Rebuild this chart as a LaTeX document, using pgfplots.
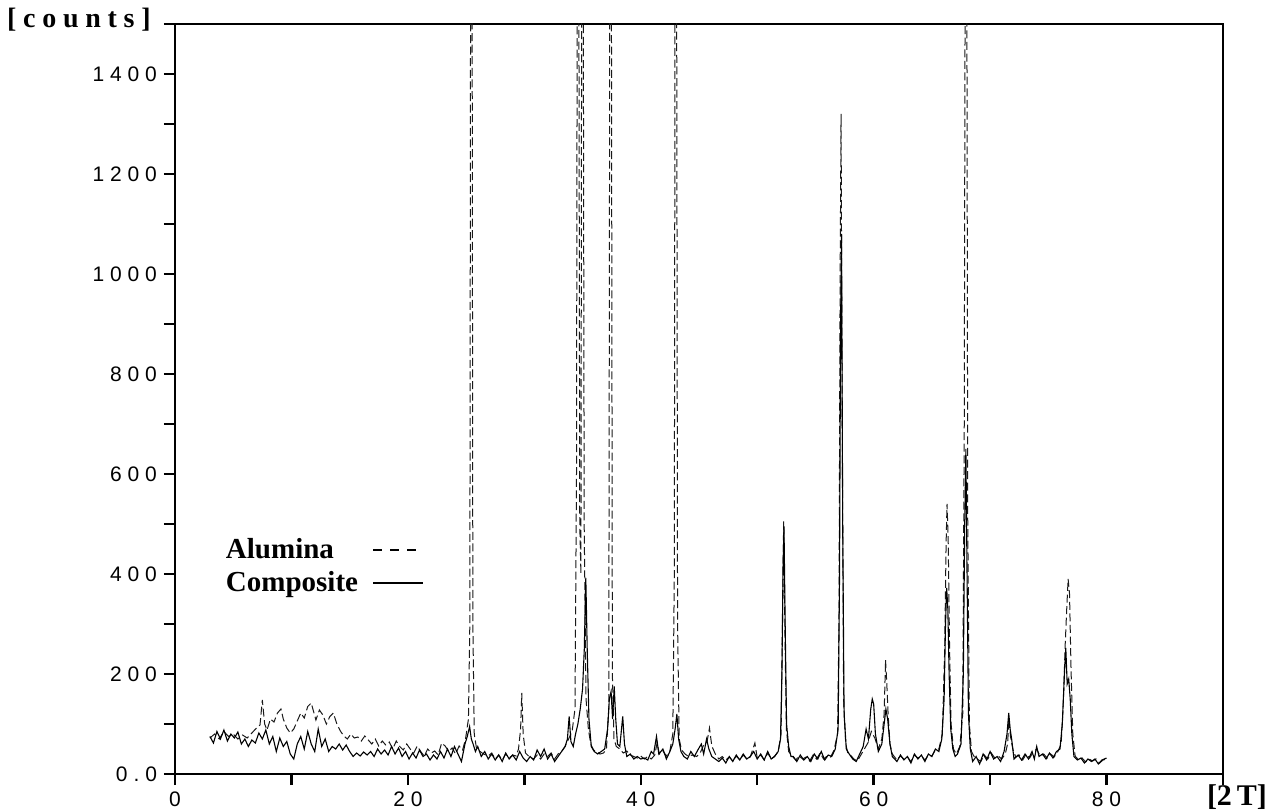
\documentclass[border=0pt]{standalone}
\usepackage{fontspec}
\usepackage{pgfplots}
\pgfplotsset{compat=1.18}
\setmainfont{Liberation Serif}
\newfontfamily\tickfont[LetterSpace=28]{Liberation Sans}
\newfontfamily\labfont[LetterSpace=24]{Liberation Serif}

\pgfplotstableread{
x y
3.0 72
3.4 80
3.8 70
4.2 85
4.6 75
5.0 80
5.4 70
5.8 78
6.2 72
6.6 82
7.0 92
7.3 98
7.5 148
7.7 100
7.9 88
8.2 110
8.5 104
8.8 122
9.1 130
9.3 110
9.6 92
9.9 82
10.2 90
10.5 106
10.8 122
11.1 112
11.4 135
11.7 142
11.9 125
12.1 108
12.4 128
12.7 118
13.0 100
13.3 115
13.6 122
13.9 100
14.2 86
14.5 76
14.8 70
15.1 80
15.4 72
15.7 74
16.0 66
16.3 76
16.6 68
16.9 60
17.2 70
17.5 56
17.8 66
18.1 58
18.4 64
18.7 50
19.0 66
19.3 55
19.6 48
19.9 60
20.2 50
20.5 42
20.8 56
21.1 45
21.4 36
21.7 50
22.0 42
22.3 46
22.6 38
22.9 62
23.2 56
23.5 45
23.8 52
24.1 40
24.4 56
24.7 48
24.95 70
25.2 110
25.32 300
25.4 1900
25.5 1900
25.58 300
25.7 80
25.9 50
26.2 45
26.5 40
26.9 36
27.2 42
27.5 30
27.8 38
28.1 28
28.4 40
28.7 32
29.0 38
29.3 36
29.5 50
29.68 90
29.78 162
29.9 80
30.1 42
30.4 35
30.8 30
31.1 38
31.4 30
31.7 40
32.0 35
32.3 42
32.6 30
32.9 40
33.2 45
33.5 55
33.8 70
34.1 85
34.35 130
34.48 600
34.56 1900
34.66 1900
34.76 500
34.86 400
34.94 1900
35.04 1900
35.14 500
35.3 150
35.5 90
35.7 60
35.95 48
36.2 45
36.5 40
36.8 42
37.05 50
37.25 130
37.36 1900
37.46 1900
37.56 200
37.7 70
37.9 55
38.2 50
38.5 42
38.8 46
39.1 38
39.4 35
39.7 32
40.0 36
40.3 30
40.6 35
40.9 30
41.2 38
41.4 62
41.6 40
41.9 46
42.2 36
42.5 46
42.75 80
42.88 400
42.96 1900
43.06 1900
43.16 300
43.3 70
43.5 48
43.8 40
44.1 35
44.4 38
44.8 35
45.1 42
45.4 58
45.7 66
45.9 92
46.1 56
46.4 40
46.7 30
47.0 35
47.3 28
47.6 34
47.9 26
48.2 36
48.5 28
48.8 38
49.1 30
49.4 34
49.8 62
50.0 32
50.3 38
50.6 28
50.9 42
51.2 30
51.5 36
51.8 45
52.05 80
52.17 300
52.27 505
52.37 300
52.5 90
52.7 45
53.0 36
53.3 28
53.6 36
53.9 30
54.2 34
54.5 26
54.8 38
55.1 30
55.4 42
55.7 30
56.0 36
56.3 34
56.6 48
56.9 80
57.02 300
57.12 1000
57.2 1320
57.3 700
57.42 150
57.6 60
57.8 40
58.0 38
58.3 30
58.6 26
58.9 38
59.2 50
59.5 62
59.8 85
60.1 72
60.4 50
60.7 70
60.9 120
61.02 228
61.12 185
61.24 120
61.4 60
61.6 40
62.0 28
62.3 36
62.6 30
62.9 34
63.2 25
63.5 38
63.8 32
64.1 36
64.4 28
64.7 38
65.0 36
65.3 48
65.6 50
65.9 80
66.1 250
66.22 460
66.3 540
66.4 470
66.52 250
66.65 100
66.85 50
67.1 40
67.4 55
67.65 120
67.78 700
67.88 1900
67.98 1900
68.08 500
68.22 100
68.4 45
68.6 36
68.9 30
69.2 25
69.5 38
69.8 30
70.1 42
70.4 32
70.7 36
71.0 30
71.3 40
71.5 60
71.62 110
71.75 75
71.95 50
72.2 34
72.5 38
72.8 28
73.1 40
73.4 32
73.7 44
74.0 50
74.3 36
74.6 40
74.9 32
75.2 40
75.5 34
75.8 44
76.1 60
76.3 150
76.45 260
76.58 330
76.7 390
76.82 360
76.95 210
77.1 80
77.3 36
77.6 28
77.9 32
78.2 24
78.5 30
78.8 26
79.1 30
79.4 22
79.7 28
80.0 30
}\alumina

\pgfplotstableread{
x y
3.0 75
3.3 62
3.6 85
3.9 70
4.2 88
4.5 66
4.8 80
5.1 72
5.4 84
5.7 60
6.0 70
6.3 55
6.6 68
6.9 62
7.2 82
7.5 70
7.8 88
8.1 60
8.4 75
8.7 45
9.0 72
9.3 55
9.6 65
9.9 40
10.2 30
10.5 60
10.8 75
11.1 50
11.4 85
11.7 60
12.0 45
12.3 90
12.6 55
12.9 70
13.2 45
13.5 55
13.8 50
14.1 60
14.4 48
14.7 58
15.0 45
15.3 35
15.6 42
15.9 36
16.2 44
16.5 38
16.8 45
17.1 35
17.4 50
17.7 40
18.0 48
18.3 38
18.6 55
18.9 40
19.2 52
19.5 35
19.8 45
20.1 30
20.4 42
20.7 32
21.0 48
21.3 35
21.6 40
21.9 28
22.2 38
22.5 30
22.8 45
23.1 32
23.4 50
23.7 35
24.0 55
24.3 40
24.6 25
24.9 60
25.1 75
25.3 95
25.45 70
25.6 60
25.8 45
26.0 55
26.3 35
26.6 45
26.9 30
27.2 40
27.5 28
27.8 38
28.1 25
28.4 42
28.7 30
29.0 38
29.3 28
29.6 45
29.9 32
30.2 25
30.5 35
30.8 28
31.1 48
31.4 35
31.7 50
32.0 30
32.3 40
32.6 25
32.9 35
33.2 45
33.5 55
33.7 70
33.85 115
34.0 65
34.2 55
34.4 80
34.6 100
34.8 130
35.0 170
35.15 250
35.28 392
35.4 250
35.55 110
35.75 55
36.0 45
36.3 40
36.6 45
36.9 50
37.15 90
37.3 150
37.45 165
37.58 110
37.72 175
37.85 110
38.0 60
38.2 55
38.45 115
38.6 60
38.8 35
39.1 40
39.4 30
39.7 35
40.0 30
40.3 32
40.6 28
40.9 45
41.1 40
41.35 75
41.55 40
41.9 50
42.2 30
42.5 45
42.75 60
42.95 90
43.1 120
43.25 70
43.45 45
43.7 35
44.0 30
44.3 45
44.6 35
44.9 48
45.2 60
45.4 40
45.65 70
45.85 50
46.1 35
46.4 30
46.7 25
47.0 32
47.3 22
47.6 35
47.9 25
48.2 38
48.5 28
48.8 40
49.1 30
49.4 35
49.7 45
50.0 30
50.3 40
50.6 28
50.9 45
51.2 30
51.5 35
51.8 45
52.0 70
52.12 200
52.22 420
52.3 495
52.4 300
52.52 100
52.7 55
52.9 35
53.1 35
53.4 25
53.7 38
54.0 28
54.3 35
54.6 25
54.9 40
55.2 30
55.5 45
55.8 28
56.1 38
56.4 35
56.7 50
56.95 90
57.07 400
57.16 900
57.24 1080
57.34 500
57.46 120
57.65 50
57.9 40
58.2 30
58.5 25
58.8 40
59.1 55
59.35 90
59.55 70
59.75 130
59.88 150
60.0 140
60.15 80
60.4 45
60.7 60
60.9 100
61.05 130
61.2 110
61.4 60
61.6 35
62.0 25
62.3 38
62.6 28
62.9 35
63.2 22
63.5 40
63.8 30
64.1 38
64.4 25
64.7 40
65.0 35
65.3 50
65.6 45
65.85 70
66.05 150
66.17 300
66.27 372
66.37 330
66.48 200
66.62 90
66.8 50
67.0 35
67.2 40
67.5 60
67.7 200
67.82 500
67.92 650
68.02 400
68.14 120
68.3 50
68.5 25
68.8 35
69.1 20
69.4 40
69.7 28
70.0 45
70.3 30
70.6 35
70.9 25
71.2 45
71.45 80
71.6 122
71.72 90
71.85 70
72.05 30
72.4 38
72.7 28
73.0 40
73.3 30
73.6 45
73.8 30
74.0 55
74.2 35
74.5 40
74.8 30
75.1 42
75.4 32
75.7 45
76.0 50
76.2 100
76.38 200
76.5 252
76.62 180
76.75 190
76.88 150
77.02 80
77.2 35
77.5 28
77.8 32
78.1 22
78.4 30
78.7 25
79.0 30
79.3 20
79.6 28
80.0 32
}\composite

\begin{document}
\begin{tikzpicture}
\begin{axis}[
  scale only axis,
  width=524pt, height=375pt,
  xmin=0, xmax=90, ymin=0, ymax=1500,
  axis line style={line width=1.2pt},
  tick align=outside,
  xtick pos=bottom, ytick pos=left,
  xtick={0,20,40,60,80}, xticklabels={0,20,40,60,80},
  minor xtick={10,30,50,70,90},
  ytick={0,200,400,600,800,1000,1200,1400},
  yticklabels={0.0,200,400,600,800,1000,1200,1400},
  minor ytick={100,300,500,700,900,1100,1300,1500},
  major tick length=5.5pt, minor tick length=5.5pt,
  every tick/.style={line width=1.2pt, black},
  ticklabel style={font=\tickfont\fontsize{10.5}{12}\selectfont},
  legend plot pos=right,
  legend cell align=left,
  legend style={at={(axis cs:4.0,480)}, anchor=north west, draw=none, fill=none,
    font=\bfseries\fontsize{14.5}{16}\selectfont, inner sep=0pt,
    row sep=1pt, column sep=5pt},
  legend image code/.code={\draw[#1] (0pt,0pt) -- (25pt,0pt);},
]
\addplot[black!90, line width=0.5pt, dash pattern=on 4pt off 1.8pt, forget plot] table {\alumina};
\addplot[black, line width=0.55pt, forget plot] table {\composite};
\addlegendimage{black, line width=1.2pt, dash pattern=on 4.5pt off 4pt}
\addlegendentry{Alumina}
\addlegendimage{black, line width=0.6pt}
\addlegendentry{Composite}
\end{axis}
\node[anchor=east, inner sep=0pt, xshift=-12pt, yshift=2pt, font=\labfont\bfseries\fontsize{14}{16}\selectfont] at (current axis.north west) {[counts]};
\node[inner sep=0pt, xshift=7pt, yshift=-11.5pt, font=\bfseries\fontsize{15}{17}\selectfont] at (current axis.south east) {[2\,T]};
\pgfresetboundingbox
\path (current axis.south west) ++(-87.5pt,-18pt) rectangle ++(633.5pt,405pt);
\end{tikzpicture}
\end{document}
